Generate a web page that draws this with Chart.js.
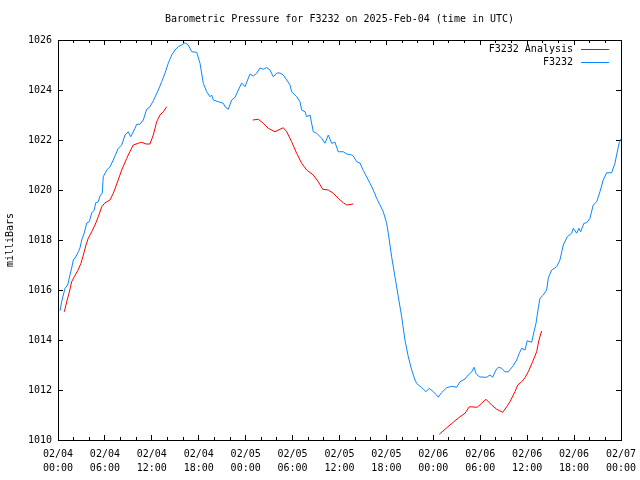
<!DOCTYPE html>
<html>
<head>
<meta charset="utf-8">
<script src="https://cdn.jsdelivr.net/npm/chart.js@4"></script>
<style>
html,body{margin:0;padding:0;background:#fff;}
canvas{display:block;}
</style>
</head>
<body>
<canvas id="c" width="640" height="480"></canvas>
<script>
// ---- data (hours since 2025-02-04 00:00 UTC, pressure in mbar) ----
const blueHours = [0.26,0.47,0.68,0.90,1.24,1.53,1.75,1.96,2.26,2.60,
 2.81,3.03,3.36,3.67,4.00,4.31,4.64,4.82,5.15,5.37,
 5.66,5.79,6.23,6.65,7.07,7.71,8.15,8.57,8.99,9.30,
 9.85,10.06,10.49,10.91,11.34,11.76,12.19,12.83,13.26,13.68,
 14.10,14.54,14.96,15.38,15.82,16.24,16.66,17.10,17.74,18.16,
 18.58,19.02,19.44,19.65,19.86,20.50,21.14,21.36,21.78,22.21,
 22.63,23.06,23.49,23.91,24.55,24.97,25.41,25.83,26.25,26.69,
 27.11,27.53,27.97,28.39,28.81,29.25,29.67,29.88,30.52,30.95,
 31.16,31.59,31.80,32.23,32.65,33.08,33.72,34.14,34.57,35.00,
 35.42,35.84,36.48,36.92,37.56,37.76,38.20,38.62,39.04,39.48,
 39.90,40.32,40.75,41.18,41.60,42.03,42.24,42.67,43.09,43.52,
 43.95,44.37,44.80,45.23,45.65,45.87,46.07,46.51,47.06,47.48,
 47.99,48.43,48.63,49.07,49.71,50.35,50.98,51.41,52.05,52.46,
 52.90,53.20,53.45,53.75,53.96,54.82,55.24,55.59,56.01,56.31,
 56.74,57.16,57.58,58.22,58.66,58.99,59.30,59.72,60.01,60.58,
 60.87,61.13,61.42,61.64,62.06,62.49,62.70,63.13,63.77,64.19,
 64.62,65.13,65.69,65.90,66.33,66.62,66.84,67.26,67.61,68.03,
 68.45,68.89,69.31,69.73,70.17,70.80,71.23,71.44,71.77,71.99];
const bluePressure = [1015.17,1015.53,1015.80,1016.07,1016.20,1016.60,1016.88,1017.20,1017.32,1017.53,
 1017.68,1018.00,1018.28,1018.68,1018.73,1019.08,1019.20,1019.49,1019.53,1019.76,
 1019.88,1020.53,1020.80,1020.93,1021.20,1021.67,1021.80,1022.20,1022.33,1022.13,
 1022.47,1022.63,1022.63,1022.80,1023.23,1023.33,1023.57,1024.00,1024.33,1024.67,
 1025.07,1025.40,1025.60,1025.73,1025.80,1025.89,1025.80,1025.53,1025.51,1025.07,
 1024.27,1023.93,1023.73,1023.80,1023.60,1023.53,1023.47,1023.33,1023.23,1023.60,
 1023.70,1024.00,1024.28,1024.13,1024.64,1024.56,1024.67,1024.88,1024.83,1024.90,
 1024.80,1024.53,1024.68,1024.68,1024.60,1024.40,1024.20,1023.93,1023.73,1023.53,
 1023.20,1023.13,1022.93,1023.00,1022.33,1022.27,1022.07,1021.87,1022.20,1021.87,
 1021.91,1021.53,1021.53,1021.44,1021.40,1021.36,1021.13,1021.08,1020.78,1020.52,
 1020.27,1020.00,1019.67,1019.40,1019.13,1018.67,1018.27,1017.33,1016.53,1015.73,
 1014.93,1014.00,1013.33,1012.80,1012.40,1012.27,1012.20,1012.10,1011.93,1012.07,
 1011.93,1011.80,1011.71,1011.90,1012.09,1012.15,1012.11,1012.33,1012.44,1012.60,
 1012.72,1012.91,1012.67,1012.56,1012.52,1012.51,1012.60,1012.51,1012.80,1012.91,
 1012.87,1012.73,1012.73,1012.97,1013.20,1013.47,1013.67,1013.60,1013.97,1013.91,
 1014.33,1014.67,1015.27,1015.67,1015.80,1016.00,1016.47,1016.80,1016.93,1017.20,
 1017.80,1018.13,1018.27,1018.47,1018.27,1018.47,1018.33,1018.67,1018.69,1018.87,
 1019.40,1019.53,1019.93,1020.40,1020.69,1020.69,1021.07,1021.40,1021.89,1022.04];

// Analysis series; null marks a gap in the record
const redHours = [0.81,1.11,1.41,1.75,2.08,2.52,2.94,3.24,3.58,3.87,
 4.31,4.73,5.15,5.59,6.01,6.65,7.07,7.51,8.15,8.79,
 9.30,9.63,10.27,10.70,11.25,11.76,12.19,12.62,13.04,13.47,13.90,
 19.40,
 24.90,25.61,26.25,26.89,27.75,28.39,28.81,29.25,29.88,30.52,
 31.16,31.80,32.65,33.29,33.85,34.57,35.20,35.84,36.48,36.92,37.76,
 43.00,
 48.76,49.49,50.13,50.77,51.41,52.05,52.60,53.62,54.18,54.73,
 55.46,56.10,56.87,57.38,57.80,58.44,58.79,59.30,59.72,60.14,
 60.70,61.21,61.51,61.85];
const redPressure = [1015.13,1015.53,1015.87,1016.33,1016.53,1016.77,1017.07,1017.40,1017.80,1018.07,
 1018.33,1018.60,1018.93,1019.33,1019.49,1019.60,1019.87,1020.24,1020.80,1021.27,
 1021.60,1021.80,1021.87,1021.91,1021.84,1021.84,1022.20,1022.73,1023.00,1023.13,1023.33,
 null,
 1022.80,1022.83,1022.67,1022.47,1022.33,1022.43,1022.49,1022.33,1021.93,1021.47,
 1021.07,1020.80,1020.60,1020.33,1020.03,1020.00,1019.87,1019.67,1019.49,1019.40,1019.44,
 null,
 1010.23,1010.43,1010.60,1010.77,1010.93,1011.07,1011.33,1011.31,1011.47,1011.63,
 1011.40,1011.23,1011.11,1011.33,1011.53,1011.93,1012.20,1012.33,1012.49,1012.73,
 1013.13,1013.53,1014.00,1014.36];

const xTickLabels = [
 ['02/04','00:00'],['02/04','06:00'],['02/04','12:00'],['02/04','18:00'],
 ['02/05','00:00'],['02/05','06:00'],['02/05','12:00'],['02/05','18:00'],
 ['02/06','00:00'],['02/06','06:00'],['02/06','12:00'],['02/06','18:00'],
 ['02/07','00:00']];
const seriesNames = ['F3232 Analysis', 'F3232'];
const chartTitle = 'Barometric Pressure for F3232 on 2025-Feb-04 (time in UTC)';
const yAxisTitle = 'milliBars';

// ---- chart ----
const FONT = "'DejaVu Sans Mono', 'Liberation Mono', monospace";
Chart.defaults.color = '#000';
Chart.defaults.font.family = FONT;
Chart.defaults.font.size = 10;

const toPts = (xs, ys) => xs.map((h, i) => ({x: h, y: ys[i]}));

// zero-size axes used only to draw the inward tick marks of the frame
function frameAxis(position, axis, step, len, weight) {
  const isX = axis === 'x';
  return {
    type: 'linear', position: position, axis: axis, weight: weight,
    min: isX ? 0 : 1010, max: isX ? 72 : 1026,
    grid: {drawOnChartArea: false, drawTicks: true, tickLength: -len, color: '#000', tickColor: '#000', lineWidth: 1},
    border: {display: true, color: '#000', width: 1},
    ticks: {display: false, stepSize: step},
    afterFit: (s) => { if (isX) s.height = 0; else s.width = 0; }
  };
}

const centerTitlePlugin = {
  id: 'centerTitle',
  afterLayout(chart) {
    const t = chart.titleBlock;
    if (t) { t.left = chart.chartArea.left; t.right = chart.chartArea.right; }
  }
};

const keyPlugin = {
  id: 'keyInside',
  afterDraw(chart) {
    const ctx = chart.ctx, ca = chart.chartArea;
    ctx.save();
    ctx.font = '10px ' + FONT;
    ctx.textAlign = 'right';
    ctx.textBaseline = 'middle';
    chart.data.datasets.forEach((ds, i) => {
      const y = Math.round(ca.top + 9) + 0.5 + i * 13;
      ctx.fillStyle = '#000';
      ctx.fillText(ds.label, ca.right - 48, y);
      ctx.strokeStyle = ds.borderColor;
      ctx.lineWidth = 1;
      ctx.beginPath();
      ctx.moveTo(ca.right - 40, y);
      ctx.lineTo(ca.right - 12, y);
      ctx.stroke();
    });
    ctx.restore();
  }
};

new Chart(document.getElementById('c'), {
  type: 'line',
  data: {
    datasets: [
      {label: seriesNames[0], data: toPts(redHours, redPressure), borderColor: '#ff0000',
       borderWidth: 1, pointRadius: 0, tension: 0, fill: false, spanGaps: false},
      {label: seriesNames[1], data: toPts(blueHours, bluePressure), borderColor: '#0a86ff',
       borderWidth: 1, pointRadius: 0, tension: 0, fill: false, spanGaps: false}
    ]
  },
  options: {
    responsive: false,
    animation: false,
    devicePixelRatio: 1,
    layout: {padding: {left: 0, right: 19, top: 0, bottom: 0}},
    plugins: {
      legend: {display: false},
      tooltip: {enabled: false},
      title: {display: true, text: chartTitle, color: '#000',
              font: {family: FONT, size: 10, weight: 'normal', lineHeight: 1.2},
              padding: {top: 13, bottom: 15}}
    },
    scales: {
      x: {
        type: 'linear', position: 'bottom', min: 0, max: 72, weight: 2,
        grid: {drawOnChartArea: false, drawTicks: true, tickLength: 4, color: 'rgba(0,0,0,0)', tickColor: 'rgba(0,0,0,0)'},
        border: {display: false},
        ticks: {stepSize: 6, padding: 3, maxRotation: 0, autoSkip: false, color: '#000',
                font: {family: FONT, size: 10, lineHeight: 1.4},
                callback: (v) => xTickLabels[Math.round(v / 6)]},
        afterFit: (s) => { s.height = 40; }
      },
      xMajor: frameAxis('bottom', 'x', 6, 5, 0),
      xMinor: frameAxis('bottom', 'x', 2, 3, 1),
      xTop: frameAxis('top', 'x', 6, 5, 0),
      xTopMinor: frameAxis('top', 'x', 2, 3, 1),
      y: {
        type: 'linear', position: 'left', min: 1010, max: 1026,
        grid: {drawOnChartArea: false, drawTicks: true, tickLength: -5, color: '#000', tickColor: '#000'},
        border: {display: true, color: '#000', width: 1},
        ticks: {stepSize: 2, padding: 11, color: '#000', font: {family: FONT, size: 10},
                callback: (v) => String(v)},
        title: {display: true, text: yAxisTitle, color: '#000',
                font: {family: FONT, size: 10, lineHeight: 1.2}, padding: {top: 4, bottom: 0}},
        afterFit: (s) => { s.width = 58; }
      },
      yRight: frameAxis('right', 'y', 2, 5, 0)
    }
  },
  plugins: [centerTitlePlugin, keyPlugin]
});
</script>
</body>
</html>
